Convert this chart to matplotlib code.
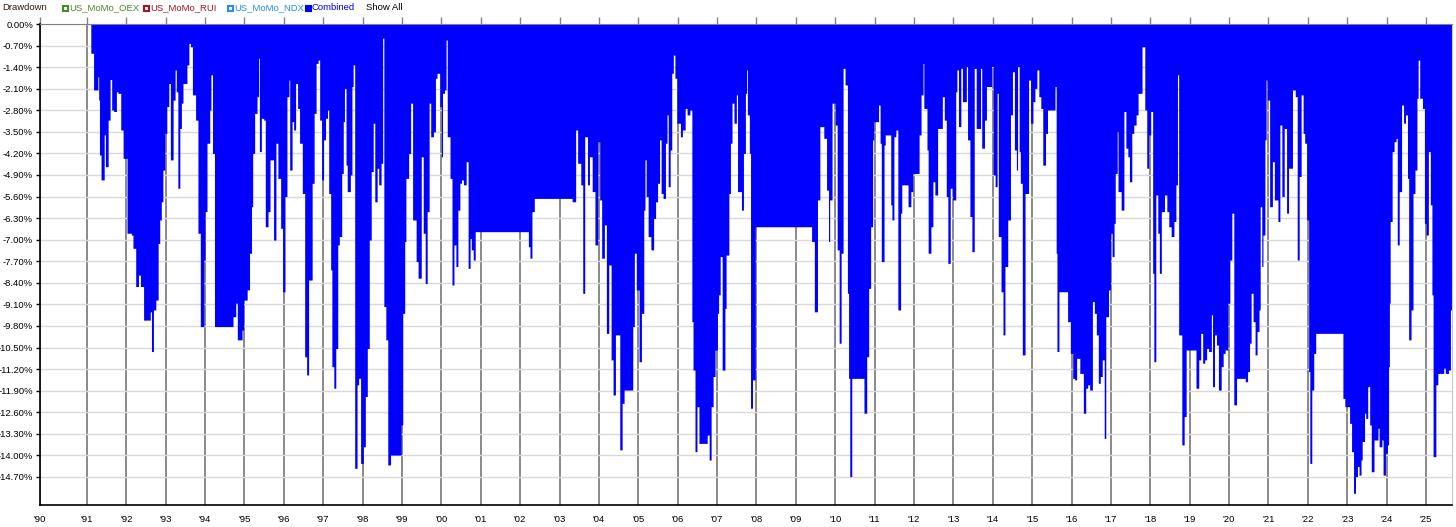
import matplotlib
matplotlib.use("Agg")
import matplotlib.pyplot as plt
from matplotlib.patches import Rectangle
import numpy as np

plt.rcParams["font.family"] = ["Liberation Sans", "DejaVu Sans"]

# Combined drawdown (%), step series: value holds from each date until the next one
t_1990s = [
    1991.10, 1991.17, 1991.28, 1991.30, 1991.32, 1991.36, 1991.44, 1991.47, 1991.54, 1991.59,
    1991.63, 1991.68, 1991.75, 1991.79, 1991.86, 1991.92, 1992.02, 1992.13, 1992.17, 1992.24,
    1992.31, 1992.36, 1992.44, 1992.61, 1992.64, 1992.69, 1992.75, 1992.81, 1992.85, 1992.89,
    1992.93, 1992.98, 1993.03, 1993.08, 1993.12, 1993.19, 1993.24, 1993.27, 1993.31, 1993.36,
    1993.40, 1993.44, 1993.54, 1993.59, 1993.63, 1993.68, 1993.76, 1993.82, 1993.88, 1993.97,
    1994.00, 1994.05, 1994.12, 1994.15, 1994.19, 1994.24, 1994.71, 1994.78, 1994.82, 1994.94,
    1994.98, 1995.07, 1995.13, 1995.18, 1995.21, 1995.26, 1995.32, 1995.36, 1995.38, 1995.43,
    1995.49, 1995.53, 1995.60, 1995.65, 1995.74, 1995.80, 1995.85, 1995.92, 1995.97, 1996.03,
    1996.08, 1996.13, 1996.15, 1996.21, 1996.25, 1996.30, 1996.35, 1996.40, 1996.47, 1996.53,
    1996.58, 1996.63, 1996.72, 1996.77, 1996.82, 1996.87, 1996.91, 1996.96, 1997.01, 1997.06,
    1997.11, 1997.14, 1997.19, 1997.22, 1997.27, 1997.32, 1997.37, 1997.41, 1997.47, 1997.51,
    1997.54, 1997.58, 1997.61, 1997.69, 1997.73, 1997.76, 1997.80, 1997.86, 1997.90, 1997.95,
    1998.02, 1998.07, 1998.12, 1998.17, 1998.22, 1998.27, 1998.31, 1998.37, 1998.41, 1998.47,
    1998.51, 1998.54, 1998.59, 1998.64, 1998.71, 1998.98, 1999.02, 1999.07, 1999.10, 1999.17,
    1999.22, 1999.27, 1999.36, 1999.41, 1999.49, 1999.54, 1999.59, 1999.64, 1999.69, 1999.73,
    1999.80, 1999.85, 1999.89, 1999.96,
]
dd_1990s = [
    -0.95, -2.14, -1.71, -2.47, -4.25, -5.06, -3.60, -4.63, -3.12, -1.80,
    -2.79, -2.84, -2.20, -2.25, -3.44, -4.36, -6.79, -6.85, -7.28, -8.52,
    -8.15, -8.52, -9.61, -9.34, -10.63, -9.28, -8.96, -7.12, -6.36, -5.77,
    -4.74, -3.55, -2.68, -1.93, -4.41, -2.47, -1.49, -2.20, -5.33, -3.39,
    -2.57, -1.93, -1.33, -0.63, -0.74, -2.30, -3.12, -6.79, -9.82, -7.66,
    -6.09, -3.87, -2.79, -1.65, -4.20, -9.82, -9.50, -9.06, -10.25, -9.93,
    -8.96, -8.63, -7.44, -5.93, -4.20, -2.90, -2.36, -1.11, -4.14, -3.06,
    -3.12, -6.58, -6.09, -4.41, -7.01, -3.87, -5.01, -6.63, -8.69, -5.60,
    -2.36, -1.82, -4.74, -3.17, -3.44, -1.93, -2.74, -3.87, -5.50, -10.80,
    -11.39, -8.31, -5.17, -2.90, -1.28, -1.17, -3.12, -5.06, -3.76, -3.06,
    -2.79, -5.50, -7.98, -11.12, -11.82, -10.53, -7.17, -6.90, -4.85, -3.17,
    -2.09, -4.58, -5.44, -4.90, -2.03, -1.33, -14.42, -11.71, -11.50, -14.26,
    -13.72, -12.09, -10.53, -7.01, -4.79, -3.22, -5.77, -4.68, -5.22, -4.52,
    -0.46, -9.17, -10.25, -14.31, -13.99, -13.01, -9.39, -7.06, -5.01, -4.20,
    -2.57, -6.36, -7.71, -8.25, -4.31, -6.79, -8.42, -6.09, -2.57, -3.66,
    -3.50, -1.76, -1.60, -2.68,
]

t_2000s = [
    2000.00, 2000.03, 2000.08, 2000.12, 2000.15, 2000.22, 2000.27, 2000.32, 2000.37, 2000.42,
    2000.47, 2000.51, 2000.56, 2000.63, 2000.68, 2000.73, 2000.76, 2000.81, 2000.86, 2002.21,
    2002.25, 2002.30, 2002.36, 2003.32, 2003.41, 2003.46, 2003.54, 2003.59, 2003.64, 2003.71,
    2003.76, 2003.83, 2003.90, 2003.97, 2004.02, 2004.07, 2004.14, 2004.19, 2004.25, 2004.31,
    2004.36, 2004.42, 2004.53, 2004.59, 2004.64, 2004.86, 2004.90, 2004.95, 2005.02, 2005.08,
    2005.14, 2005.17, 2005.20, 2005.25, 2005.32, 2005.39, 2005.44, 2005.49, 2005.54, 2005.58,
    2005.63, 2005.69, 2005.73, 2005.76, 2005.81, 2005.85, 2005.89, 2005.93, 2005.98, 2006.07,
    2006.12, 2006.19, 2006.24, 2006.31, 2006.36, 2006.39, 2006.44, 2006.49, 2006.54, 2006.75,
    2006.80, 2006.85, 2006.90, 2006.95, 2007.01, 2007.04, 2007.08, 2007.13, 2007.20, 2007.23,
    2007.30, 2007.34, 2007.38, 2007.43, 2007.49, 2007.52, 2007.62, 2007.67, 2007.72, 2007.75,
    2007.77, 2007.82, 2007.85, 2007.90, 2007.97, 2009.40, 2009.47, 2009.55, 2009.61, 2009.71,
    2009.78, 2009.83, 2009.86, 2009.92,
]
dd_2000s = [
    -4.31, -2.25, -2.14, -0.52, -3.66, -5.01, -8.47, -7.17, -7.87, -6.04,
    -5.17, -5.06, -5.22, -4.47, -7.93, -6.96, -7.33, -7.66, -6.74, -7.23,
    -7.60, -6.09, -5.66, -5.77, -3.44, -4.52, -5.22, -8.74, -3.66, -5.22,
    -4.31, -5.44, -7.17, -3.82, -5.71, -7.60, -6.52, -10.04, -7.82, -10.90,
    -12.04, -10.09, -13.82, -12.31, -11.88, -9.82, -7.44, -8.63, -10.96, -9.39,
    -6.04, -4.41, -5.60, -6.90, -7.33, -6.31, -5.77, -5.17, -3.76, -5.50,
    -5.66, -3.87, -2.95, -5.28, -4.09, -1.60, -1.01, -1.76, -3.22, -3.66,
    -3.44, -2.74, -2.95, -2.79, -9.66, -11.23, -13.88, -12.42, -13.61, -13.34,
    -14.15, -12.42, -11.44, -10.58, -9.39, -8.79, -7.55, -11.23, -9.23, -7.50,
    -5.50, -3.87, -2.57, -3.22, -2.30, -5.44, -6.04, -4.20, -2.25, -1.49,
    -2.95, -4.20, -12.47, -11.55, -6.58, -7.06, -9.34, -5.71, -3.33, -3.71,
    -5.39, -7.06, -5.71, -2.57,
]

t_2010s = [
    2010.00, 2010.05, 2010.10, 2010.15, 2010.20, 2010.25, 2010.31, 2010.34, 2010.37, 2010.42,
    2010.73, 2010.80, 2010.85, 2010.90, 2010.95, 2010.98, 2011.10, 2011.14, 2011.17, 2011.24,
    2011.27, 2011.41, 2011.44, 2011.49, 2011.54, 2011.59, 2011.66, 2011.69, 2011.85, 2011.92,
    2011.97, 2012.13, 2012.18, 2012.23, 2012.25, 2012.33, 2012.36, 2012.43, 2012.48, 2012.53,
    2012.60, 2012.72, 2012.77, 2012.82, 2012.86, 2012.92, 2012.98, 2013.06, 2013.09, 2013.13,
    2013.19, 2013.23, 2013.33, 2013.36, 2013.42, 2013.47, 2013.53, 2013.58, 2013.69, 2013.72,
    2013.79, 2013.84, 2013.97, 2014.01, 2014.06, 2014.11, 2014.14, 2014.21, 2014.26, 2014.31,
    2014.38, 2014.45, 2014.50, 2014.55, 2014.60, 2014.63, 2014.67, 2014.70, 2014.75, 2014.82,
    2014.91, 2014.96, 2015.02, 2015.07, 2015.12, 2015.17, 2015.22, 2015.27, 2015.34, 2015.39,
    2015.58, 2015.61, 2015.63, 2015.68, 2015.90, 2015.97, 2016.03, 2016.08, 2016.13, 2016.21,
    2016.30, 2016.36, 2016.41, 2016.46, 2016.53, 2016.58, 2016.63, 2016.68, 2016.73, 2016.78,
    2016.83, 2016.87, 2016.94, 2016.99, 2017.03, 2017.08, 2017.11, 2017.16, 2017.18, 2017.26,
    2017.33, 2017.38, 2017.43, 2017.47, 2017.53, 2017.58, 2017.64, 2017.69, 2017.79, 2017.86,
    2017.91, 2017.96, 2018.01, 2018.06, 2018.09, 2018.14, 2018.19, 2018.23, 2018.28, 2018.36,
    2018.42, 2018.47, 2018.53, 2018.60, 2018.65, 2018.69, 2018.72, 2018.80, 2018.86, 2018.91,
    2019.16, 2019.23, 2019.28, 2019.33, 2019.38, 2019.43, 2019.48, 2019.55, 2019.58, 2019.63,
    2019.68, 2019.73, 2019.80, 2019.85, 2019.90, 2019.97,
]
dd_2010s = [
    -3.28, -7.33, -10.36, -7.44, -1.44, -1.98, -8.74, -11.50, -14.69, -11.50,
    -12.63, -10.80, -8.58, -6.58, -3.76, -3.17, -2.63, -3.87, -7.71, -3.93,
    -3.60, -5.87, -6.36, -3.66, -3.44, -9.28, -6.14, -5.22, -5.93, -5.44,
    -4.85, -3.60, -2.30, -1.28, -2.74, -4.09, -7.44, -6.58, -5.12, -5.55,
    -3.39, -2.36, -3.12, -5.60, -7.77, -5.33, -5.71, -2.20, -1.49, -3.33,
    -1.44, -2.52, -1.38, -3.76, -6.25, -7.39, -1.44, -3.39, -1.44, -4.03,
    -3.12, -2.03, -1.38, -4.90, -5.28, -2.25, -6.90, -8.69, -10.09, -7.87,
    -6.36, -2.95, -1.55, -4.09, -4.74, -1.38, -4.14, -5.17, -10.74, -5.50,
    -1.82, -3.22, -2.52, -2.09, -1.49, -2.36, -2.74, -4.58, -3.55, -2.79,
    -2.03, -7.44, -10.63, -8.69, -9.66, -10.69, -11.50, -11.55, -10.85, -11.34,
    -12.63, -11.82, -11.71, -11.88, -9.01, -9.39, -10.09, -11.66, -11.44, -10.90,
    -13.45, -9.50, -8.63, -6.79, -7.55, -6.47, -4.85, -3.49, -5.44, -6.04,
    -2.84, -4.03, -4.31, -5.12, -3.55, -3.28, -2.95, -2.25, -0.74, -2.79,
    -4.68, -3.60, -2.84, -8.09, -10.96, -5.55, -6.79, -8.09, -6.09, -5.55,
    -6.09, -6.58, -6.90, -6.41, -5.22, -1.65, -10.09, -13.66, -12.74, -10.58,
    -11.82, -10.90, -10.04, -11.01, -10.90, -10.53, -10.63, -9.44, -11.77, -10.09,
    -10.42, -11.88, -11.12, -10.69, -10.58, -9.06,
]

t_2020s = [
    2020.02, 2020.07, 2020.12, 2020.19, 2020.41, 2020.47, 2020.52, 2020.56, 2020.61, 2020.66,
    2020.71, 2020.76, 2020.79, 2020.83, 2020.86, 2020.91, 2020.94, 2020.97, 2021.03, 2021.10,
    2021.15, 2021.24, 2021.29, 2021.34, 2021.40, 2021.46, 2021.51, 2021.61, 2021.68, 2021.73,
    2021.78, 2021.83, 2021.88, 2021.92, 2021.97, 2022.02, 2022.05, 2022.10, 2022.15, 2022.20,
    2022.89, 2022.94, 2023.06, 2023.11, 2023.16, 2023.21, 2023.26, 2023.30, 2023.35, 2023.38,
    2023.44, 2023.47, 2023.52, 2023.57, 2023.61, 2023.68, 2023.78, 2023.81, 2023.88, 2023.91,
    2023.97, 2024.02, 2024.05, 2024.07, 2024.09, 2024.14, 2024.19, 2024.24, 2024.27, 2024.32,
    2024.38, 2024.43, 2024.48, 2024.53, 2024.56, 2024.62, 2024.67, 2024.72, 2024.77, 2024.80,
    2024.84, 2024.91, 2024.96, 2025.00, 2025.06, 2025.11, 2025.15, 2025.18, 2025.25, 2025.30,
    2025.45, 2025.49, 2025.57, 2025.62, 2025.66,
]
dd_2020s = [
    -7.66, -6.14, -12.36, -11.50, -11.61, -11.28, -10.36, -8.74, -9.66, -10.74,
    -9.98, -9.28, -5.93, -7.87, -6.85, -3.76, -1.82, -2.47, -5.93, -4.47,
    -5.71, -6.41, -3.28, -5.60, -3.39, -6.14, -4.68, -2.14, -2.36, -7.66,
    -4.95, -2.30, -3.55, -3.87, -6.36, -11.28, -14.26, -11.88, -10.69, -10.04,
    -12.15, -12.42, -12.96, -13.88, -15.23, -14.69, -14.36, -14.64, -14.15, -13.55,
    -12.63, -12.80, -11.77, -13.01, -14.53, -13.50, -13.12, -13.72, -13.50, -14.64,
    -13.93, -13.66, -11.12, -9.06, -6.41, -4.14, -3.82, -3.71, -7.17, -5.44,
    -2.63, -3.22, -2.95, -5.01, -10.25, -9.28, -5.50, -4.74, -2.41, -1.17,
    -2.41, -2.74, -6.47, -6.85, -4.14, -5.87, -8.79, -14.04, -11.71, -11.34,
    -11.17, -11.34, -11.23, -9.28, -9.28,
]

year_ticks = list(range(1991, 2026))
legend_names = ["US_MoMo_OEX", "US_MoMo_RUI", "US_MoMo_NDX", "Combined"]
legend_colors = ["#4b8a2c", "#a4161f", "#2a8cf0", "#0000ff"]

W, H = 1456, 527
FS = 6.8
fig = plt.figure(figsize=(W / 100, H / 100), dpi=100)
ax = fig.add_axes([40 / W, 22 / H, 1412 / W, 481 / H])

dates = np.array(t_1990s + t_2000s + t_2010s + t_2020s)
drawdown = np.array(dd_1990s + dd_2000s + dd_2010s + dd_2020s)
ax.fill_between(dates, drawdown, 0, step="post", color="#0000ff", linewidth=0, zorder=2)

x_left, x_right = 1989.81, 2025.66
ax.set_xlim(x_left, x_right)
ax.set_ylim(-15.61, 0)

# x axis: '90 sits on the left edge
ax.set_xticks([x_left] + year_ticks)
ax.set_xticklabels(["'90"] + [f"'{y % 100:02d}" for y in year_ticks], fontsize=FS)
ax.tick_params(axis="x", bottom=False, top=True, labelbottom=True, labeltop=False,
               direction="out", length=5, color="#808080", width=1, pad=2)

yt = -0.7 * np.arange(22)
ax.set_yticks(yt)
ax.set_yticklabels([f"{v:.2f}%" if v != 0 else "0.00%" for v in yt], fontsize=FS)
ax.tick_params(axis="y", direction="out", length=3, color="black", width=1, pad=2)

ax.grid(axis="y", color="#d9d9d9", linewidth=1)
ax.grid(axis="x", color="#808080", linewidth=1.3)
ax.set_axisbelow(True)

for side in ["left", "bottom"]:
    ax.spines[side].set_color("black")
    ax.spines[side].set_linewidth(1.2)
ax.spines["top"].set_color("#808080")
ax.spines["right"].set_color("#c8c8c8")

# header / legend strip
ty = 1 - 8 / H
fig.text(2 / W, ty, "Drawdown", fontsize=FS, color="#2b1d12", va="center", ha="left")
marker_x = [63, 144, 228, 306]
for mx, name, col in zip(marker_x, legend_names, legend_colors):
    filled = name == "Combined"
    fig.patches.append(Rectangle((mx / W, (H - 11) / H), 5 / W, 5 / H,
                                 transform=fig.transFigure, linewidth=1.5,
                                 edgecolor=col, facecolor=col if filled else "white"))
    fig.text((mx + 6) / W, ty, name, fontsize=FS, color=col, va="center", ha="left")
fig.text(366 / W, ty, "Show All", fontsize=FS, color="black", va="center", ha="left")

fig.savefig("out.png", dpi=100)
